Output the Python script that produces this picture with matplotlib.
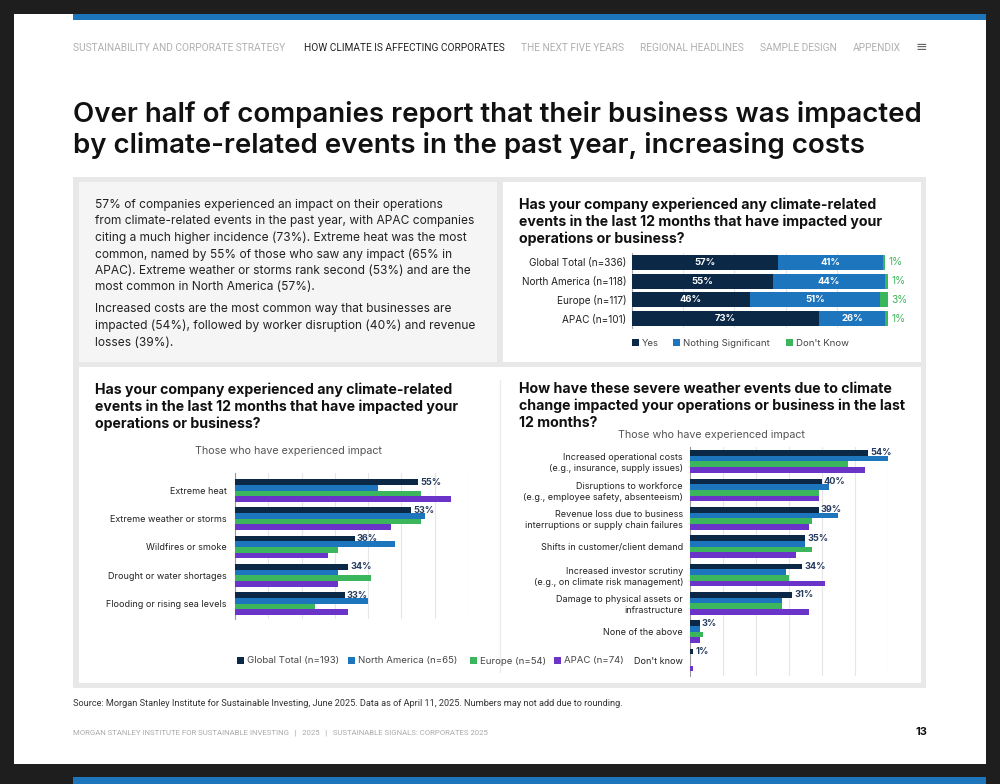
import matplotlib
matplotlib.use("Agg")
import matplotlib.pyplot as plt
from matplotlib.patches import Rectangle
import numpy as np

plt.rcParams['font.family'] = ['Inter', 'DejaVu Sans']

# ---------------- data ----------------
nav_items = ["SUSTAINABILITY AND CORPORATE STRATEGY", "HOW CLIMATE IS AFFECTING CORPORATES",
             "THE NEXT FIVE YEARS", "REGIONAL HEADLINES", "SAMPLE DESIGN", "APPENDIX"]
title_text = ("Over half of companies report that their business was impacted\n"
              "by climate-related events in the past year, increasing costs")
para1 = ("57% of companies experienced an impact on their operations\n"
         "from climate-related events in the past year, with APAC companies\n"
         "citing a much higher incidence (73%). Extreme heat was the most\n"
         "common, named by 55% of those who saw any impact (65% in\n"
         "APAC). Extreme weather or storms rank second (53%) and are the\n"
         "most common in North America (57%).")
para2 = ("Increased costs are the most common way that businesses are\n"
         "impacted (54%), followed by worker disruption (40%) and revenue\n"
         "losses (39%).")

# Stacked chart (top right)
stack_regions = ["Global Total (n=336)", "North America (n=118)", "Europe (n=117)", "APAC (n=101)"]
stack_yes = [57, 55, 46, 73]
stack_nothing = [41, 44, 51, 26]
stack_dk = [1, 1, 3, 1]
stack_series = ["Yes", "Nothing Significant", "Don't Know"]

# Event types (bottom left)
event_cats = ["Extreme heat", "Extreme weather or storms", "Wildfires or smoke",
              "Drought or water shortages", "Flooding or rising sea levels"]
event_global = [55, 53, 36, 34, 33]
event_na = [43, 57, 48, 31, 40]
event_eu = [56, 56, 31, 41, 24]
event_apac = [65, 47, 28, 31, 34]

# Impacts (bottom right)
impact_cats = ["Increased operational costs\n(e.g., insurance, supply issues)",
               "Disruptions to workforce\n(e.g., employee safety, absenteeism)",
               "Revenue loss due to business\ninterruptions or supply chain failures",
               "Shifts in customer/client demand",
               "Increased investor scrutiny\n(e.g., on climate risk management)",
               "Damage to physical assets or\ninfrastructure",
               "None of the above",
               "Don't know"]
impact_global = [54, 40, 39, 35, 34, 31, 3, 1]
impact_na = [60, 42, 45, 35, 29, 28, 3, 0]
impact_eu = [48, 39, 37, 37, 30, 28, 4, 0]
impact_apac = [53, 39, 36, 32, 41, 36, 3, 1]

group_names = ["Global Total (n=193)", "North America (n=65)", "Europe (n=54)", "APAC (n=74)"]

# ---------------- styling ----------------
NAVY = '#0b2847'
BLUE = '#1d76bd'
GREEN = '#3cb65c'
PURPLE = '#6b34c9'
colors4 = [NAVY, BLUE, GREEN, PURPLE]
TXT = '#222222'

W, H = 1000, 784
fig = plt.figure(figsize=(W / 100, H / 100), dpi=100)
fig.patch.set_facecolor('#1e1e1e')

bg = fig.add_axes([0, 0, 1, 1])
bg.set_xlim(0, W)
bg.set_ylim(H, 0)
bg.axis('off')


def rect(x0, y0, x1, y1, **kw):
    bg.add_patch(Rectangle((x0, y0), x1 - x0, y1 - y0, **kw))


def ax_at(x0, y0, x1, y1):
    return fig.add_axes([x0 / W, 1 - y1 / H, (x1 - x0) / W, (y1 - y0) / H])


# page
rect(14, 14, 986, 764, facecolor='white', edgecolor='none')
rect(73, 14, 986, 20, facecolor='#1d75bb', edgecolor='none')
rect(73, 777, 986, 784, facecolor='#1d75bb', edgecolor='none')

# nav
nav_x = [73, 304, 521, 640, 760, 853]
for i, (x, t) in enumerate(zip(nav_x, nav_items)):
    bg.text(x, 48, t, fontsize=7.3, color=('#222222' if i == 1 else '#b0b0b0'),
            va='center', ha='left', family=['Roboto', 'DejaVu Sans'])
bg.text(921, 47, "\u2261", fontsize=10, color='#666666', va='center', ha='center',
        family=['DejaVu Sans'])

# title
bg.text(73, 101, title_text, fontsize=19.9, color='#111111', va='top', ha='left',
        linespacing=1.2, fontweight='semibold')

# panels
rect(73, 177, 926, 688, facecolor='#e8e8e8', edgecolor='none')
rect(79, 182, 497, 362, facecolor='#f5f5f5', edgecolor='none')
rect(503, 182, 921, 362, facecolor='white', edgecolor='none')
rect(79, 367, 921, 683, facecolor='white', edgecolor='none')
bg.plot([500, 500], [380, 672], color='#ececec', lw=1)

# paragraph text
bg.text(95, 199, para1, fontsize=8.6, color=TXT, va='top', ha='left', linespacing=1.45)
bg.text(95, 303, para2, fontsize=8.6, color=TXT, va='top', ha='left', linespacing=1.51)

# chart titles
q1 = ("Has your company experienced any climate-related\n"
      "events in the last 12 months that have impacted your\n"
      "operations or business?")
q2 = ("How have these severe weather events due to climate\n"
      "change impacted your operations or business in the last\n"
      "12 months?")
for (x, y, q) in [(519, 197, q1), (95, 382, q1), (519, 382, q2)]:
    bg.text(x, y, q, fontsize=10.2, fontweight='bold', color='#111111', va='top', ha='left',
            linespacing=1.26)
bg.text(288, 451, "Those who have experienced impact", fontsize=7.7, color='#555555',
        ha='center', va='center')
bg.text(711, 435, "Those who have experienced impact", fontsize=7.7, color='#555555',
        ha='center', va='center')

# ---------------- stacked chart ----------------
ax1 = ax_at(632, 253, 888, 328)
yy = np.arange(len(stack_regions))
stack_cols = [NAVY, BLUE, GREEN]
left = np.zeros(len(stack_regions))
for vals, c in zip([stack_yes, stack_nothing, stack_dk], stack_cols):
    v = np.array(vals, dtype=float)
    ax1.barh(yy, v, left=left, height=0.8, color=c, zorder=3)
    left = left + v
for i in range(len(stack_regions)):
    ax1.text(stack_yes[i] / 2, i, f"{stack_yes[i]}%", color='white', fontsize=6.8,
             fontweight='bold', ha='center', va='center', zorder=4)
    ax1.text(stack_yes[i] + stack_nothing[i] / 2, i, f"{stack_nothing[i]}%", color='white',
             fontsize=6.8, fontweight='bold', ha='center', va='center', zorder=4)
    ax1.text(left[i] + 1.3, i, f"{stack_dk[i]}%", color=GREEN, fontsize=7.4,
             ha='left', va='center', zorder=4)
ax1.set_xlim(0, 100)
ax1.set_ylim(len(stack_regions) - 0.5, -0.5)
ax1.set_yticks(yy)
ax1.set_yticklabels(stack_regions, fontsize=7.2, color=TXT)
ax1.set_xticks([0, 20, 40, 60, 80, 100])
ax1.xaxis.grid(True, color='#e6e6e6', lw=0.8, zorder=0)
ax1.tick_params(axis='x', length=0, labelbottom=False)
ax1.tick_params(axis='y', length=0, pad=4)
for s in ['top', 'right', 'bottom']:
    ax1.spines[s].set_visible(False)
ax1.spines['left'].set_color('#aaaaaa')
ax1.spines['left'].set_linewidth(0.8)
ax1.set_facecolor('none')

# legend top right
for x, lab, c in zip([632, 673, 786], stack_series, stack_cols):
    rect(x, 339, x + 7, 346, facecolor=c, edgecolor='none')
    bg.text(x + 10, 343, lab, fontsize=6.9, color='#444444', va='center', ha='left')


# ---------------- grouped bar charts ----------------
def grouped(ax, cats, series, xmax, ylim, pad):
    n = len(cats)
    y = np.arange(n)
    h = 0.2
    offs = [-1.5 * h, -0.5 * h, 0.5 * h, 1.5 * h]
    for vals, c, o in zip(series, colors4, offs):
        ax.barh(y + o, vals, height=h, color=c, zorder=3)
    for i, v in enumerate(series[0]):
        ax.text(v + 0.6, i + offs[0], f"{v}%", color='#253a5e', fontsize=6.6,
                fontweight='bold', ha='left', va='center', zorder=4)
    ax.set_xlim(0, xmax)
    ax.set_ylim(*ylim)
    ax.set_yticks(y)
    ax.set_yticklabels(cats, fontsize=6.5, color=TXT, linespacing=1.25)
    ax.set_xticks(np.arange(0, xmax + 1, 10))
    ax.xaxis.grid(True, color='#e6e6e6', lw=0.8, zorder=0)
    ax.tick_params(axis='x', length=0, labelbottom=False)
    ax.tick_params(axis='y', length=0, pad=pad)
    for s in ['top', 'right', 'bottom']:
        ax.spines[s].set_visible(False)
    ax.spines['left'].set_color('#999999')
    ax.spines['left'].set_linewidth(0.8)
    ax.set_facecolor('none')


ax2 = ax_at(235, 473, 468, 619)
grouped(ax2, event_cats, [event_global, event_na, event_eu, event_apac], 70,
        (4 + 15.5 / 28.25, -17.5 / 28.25), 5.8)

ax3 = ax_at(690, 447, 888, 676)
grouped(ax3, impact_cats, [impact_global, impact_na, impact_eu, impact_apac], 60,
        (7 + 16 / 28.36, -14.5 / 28.36), 5)

# legend bottom
for x, lab, c in zip([237, 348, 470, 554], group_names, colors4):
    rect(x, 657, x + 7, 664, facecolor=c, edgecolor='none')
    bg.text(x + 10, 661, lab, fontsize=6.9, color='#444444', va='center', ha='left')

# source / footer
bg.text(73, 703, "Source: Morgan Stanley Institute for Sustainable Investing, June 2025. "
        "Data as of April 11, 2025. Numbers may not add due to rounding.",
        fontsize=6.6, color='#333333', va='center', ha='left', family=['Roboto', 'DejaVu Sans'])
bg.text(73, 733, "MORGAN STANLEY INSTITUTE FOR SUSTAINABLE INVESTING   |   2025   |   "
        "SUSTAINABLE SIGNALS: CORPORATES 2025", fontsize=5.6, color='#aaaaaa',
        va='center', ha='left', family=['Roboto', 'DejaVu Sans'])
bg.text(921, 732, "13", fontsize=8, fontweight='bold', color='#111111', va='center', ha='center')

fig.savefig("out.png", dpi=100, facecolor=fig.get_facecolor())
